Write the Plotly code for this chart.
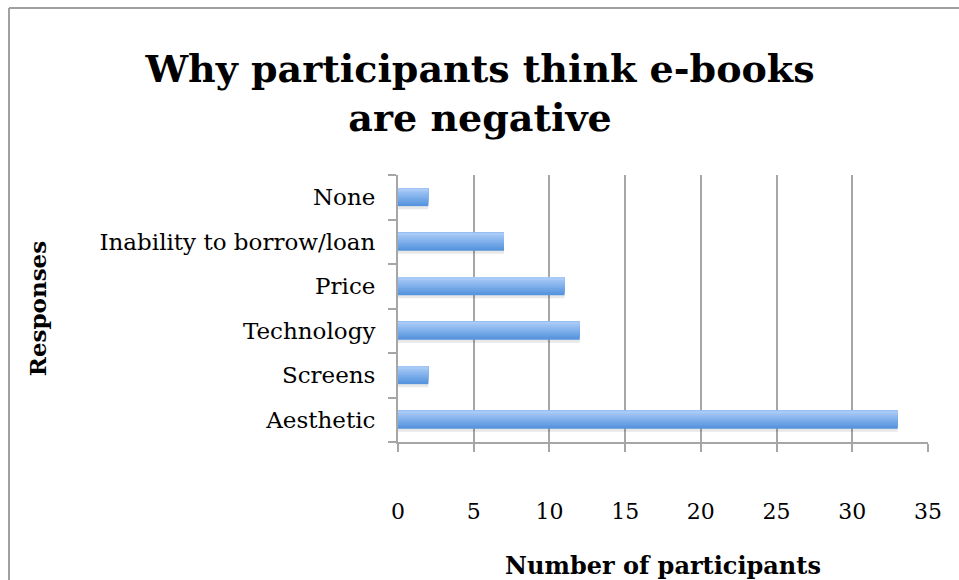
import plotly.graph_objects as go

# data
responses = ["Aesthetic", "Screens", "Technology", "Price", "Inability to borrow/loan", "None"]
participants = [33, 2, 12, 11, 7, 2]
x_ticks = [0, 5, 10, 15, 20, 25, 30, 35]

# page coordinates of the plot area in the reference
W, H = 959, 580
L, T = 398, 175
R = W - 928
B = H - 442
pw, ph = W - L - R, H - T - B

def px(x):
    return (x - L) / pw

def py(y):
    return (H - B - y) / ph

FONT = "DejaVu Serif"
bar_h = 0.4
n_strips = 10
top_rgb = (168, 202, 247)
bot_rgb = (86, 148, 222)

fig = go.Figure()

# soft shadow under the bars
fig.add_trace(go.Bar(
    y=responses, x=participants, orientation="h",
    width=bar_h, offset=-bar_h / 2 - 0.07,
    marker=dict(color="rgba(0,0,0,0.09)", line=dict(width=0)),
    hoverinfo="skip", showlegend=False,
))

# vertical gradient: each strip runs from its start to the bar top, lighter ones drawn later
for i in range(n_strips):
    t = i / (n_strips - 1)
    c = tuple(round(b + (a - b) * t) for a, b in zip(top_rgb, bot_rgb))
    fig.add_trace(go.Bar(
        y=responses, x=participants, orientation="h",
        width=bar_h * (1 - i / n_strips),
        offset=-bar_h / 2 + i * bar_h / n_strips,
        marker=dict(color="rgb(%d,%d,%d)" % c, line=dict(width=0)),
        showlegend=False,
    ))

fig.update_layout(
    width=W, height=H,
    margin=dict(l=L, r=R, t=T, b=B, autoexpand=False),
    barmode="overlay",
    paper_bgcolor="white", plot_bgcolor="white",
    font=dict(family=FONT, color="black", size=22),
    title=dict(
        text="<b>Why participants think e-books<br>are negative</b>",
        x=480 / W, xref="container", xanchor="center",
        y=1 - 82 / H, yref="container", yanchor="middle",
        font=dict(family=FONT, size=38, color="black"),
    ),
    xaxis=dict(
        range=[0, 35], tickvals=x_ticks, automargin=False,
        showgrid=True, gridcolor="#a6a6a6", gridwidth=2,
        showline=True, linecolor="#a6a6a6", linewidth=2,
        ticks="outside", ticklen=8, tickcolor="#a6a6a6", tickwidth=2,
        tickfont=dict(size=22), zeroline=False, ticklabelstandoff=41,
        title=dict(text="<b>Number of participants</b>", font=dict(size=24), standoff=46),
    ),
    yaxis=dict(
        categoryorder="array", categoryarray=responses, automargin=False,
        showgrid=False,
        showline=True, linecolor="#a6a6a6", linewidth=2,
        ticks="outside", tickson="boundaries", ticklen=8,
        tickcolor="#a6a6a6", tickwidth=2,
        tickfont=dict(size=23), ticklabelstandoff=16,
        title=dict(text="<b>Responses</b>", font=dict(size=23), standoff=46),
    ),
    shapes=[
        # chart frame, only its left and top edges are inside the picture
        dict(type="line", xref="paper", yref="paper",
             x0=px(9), x1=px(W + 20), y0=py(8), y1=py(8),
             line=dict(color="#a0a0a0", width=2), layer="below"),
        dict(type="line", xref="paper", yref="paper",
             x0=px(9), x1=px(9), y0=py(8), y1=py(H + 20),
             line=dict(color="#a0a0a0", width=2), layer="below"),
    ],
)

# drop the default page margin so the figure sits at the window corner without scrollbars
fig.write_html(
    "out.html",
    config={"displayModeBar": False},
    post_script="document.body.style.margin='0';document.documentElement.style.overflow='hidden';",
)
